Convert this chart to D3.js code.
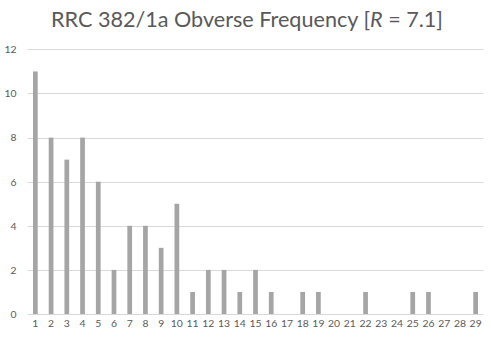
<!DOCTYPE html>
<html>
<head>
<meta charset="utf-8">
<script src="https://cdn.jsdelivr.net/npm/d3@7"></script>
<style>
  html, body { margin: 0; padding: 0; background: #fff; }
  svg { display: block; }
</style>
</head>
<body>
<svg id="chart" width="491" height="341"></svg>
<script>
// Die counts per obverse die
const dies = [1,2,3,4,5,6,7,8,9,10,11,12,13,14,15,16,17,18,19,20,21,22,23,24,25,26,27,28,29];
const frequency = [11,8,7,8,6,2,4,4,3,5,1,2,2,1,2,1,0,1,1,0,0,1,0,0,1,1,0,0,1];
const yTicks = [0,2,4,6,8,10,12];

const svg = d3.select("#chart");
const W = 491, H = 341;
const margin = { left: 27.5, right: 7.5, top: 49.4, bottom: 27 };
const fontFam = "Lato, 'Open Sans', sans-serif";

const x = d3.scaleBand()
  .domain(dies)
  .range([margin.left, W - margin.right])
  .paddingInner(0.7)
  .paddingOuter(0.35);

const y = d3.scaleLinear()
  .domain([0, 12])
  .range([H - margin.bottom, margin.top]);

// Title
const title = svg.append("text")
  .attr("x", 247)
  .attr("y", 27)
  .attr("text-anchor", "middle")
  .attr("fill", "#595959")
  .style("font-family", fontFam)
  .style("font-size", "21.6px");
title.append("tspan").text("RRC 382/1a Obverse Frequency [");
title.append("tspan").attr("font-style", "italic").text("R");
title.append("tspan").text(" = 7.1]");

// Gridlines
svg.append("g")
  .selectAll("line")
  .data(yTicks)
  .join("line")
  .attr("x1", margin.left)
  .attr("x2", W - margin.right)
  .attr("y1", d => Math.round(y(d)) + 0.5)
  .attr("y2", d => Math.round(y(d)) + 0.5)
  .attr("stroke", "#d9d9d9")
  .attr("stroke-width", 1);

// Y axis labels
const yAxis = d3.axisLeft(y).tickValues(yTicks).tickSize(0).tickPadding(0);
svg.append("g")
  .attr("transform", `translate(${margin.left - 11},0)`)
  .call(yAxis)
  .call(g => g.select(".domain").remove())
  .call(g => g.selectAll("text")
    .attr("fill", "#595959")
    .style("font-family", fontFam)
    .style("font-size", "10.4px"));

// Bars
svg.append("g")
  .selectAll("rect")
  .data(dies.map((d, i) => ({ die: d, n: frequency[i] })))
  .join("rect")
  .attr("x", d => x(d.die))
  .attr("width", x.bandwidth())
  .attr("y", d => y(d.n))
  .attr("height", d => y(0) - y(d.n))
  .attr("fill", "#a5a5a5");

// X axis labels
const xAxis = d3.axisBottom(x).tickSize(0).tickPadding(0);
svg.append("g")
  .attr("transform", `translate(0,${y(0) + 5})`)
  .call(xAxis)
  .call(g => g.select(".domain").remove())
  .call(g => g.selectAll("text")
    .attr("fill", "#595959")
    .attr("dy", "0.75em")
    .style("font-family", fontFam)
    .style("font-size", "10.4px"));
</script>
</body>
</html>
